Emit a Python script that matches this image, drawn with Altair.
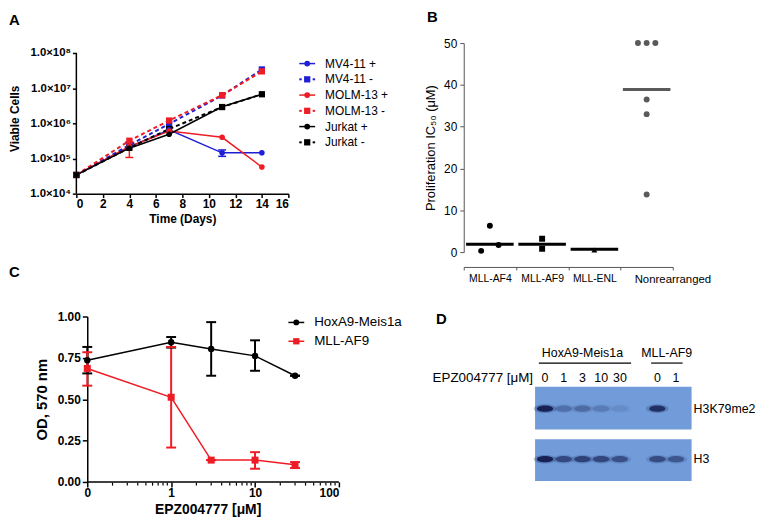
import json
import altair as alt
import pandas as pd

FONT = "Liberation Sans"

# ======================= DATA =======================
# ---- Panel A : growth curves ----
days = [0, 4, 7, 11, 14]
series_a = ["MV4-11 +", "MV4-11 -", "MOLM-13 +", "MOLM-13 -", "Jurkat +", "Jurkat -"]
mv411_plus = [3.4e4, 2.1e5, 6.5e5, 1.45e5, 1.45e5]
mv411_minus = [3.4e4, 2.4e5, 9.6e5, 6.2e6, 3.4e7]
molm13_plus = [3.4e4, 2.2e5, 6.0e5, 4.0e5, 5.7e4]
molm13_minus = [3.4e4, 3.2e5, 1.2e6, 6.3e6, 3.0e7]
jurkat_plus = [3.4e4, 1.96e5, 4.9e5, 2.95e6, 6.7e6]
jurkat_minus = [3.4e4, 2.0e5, 6.9e5, 2.9e6, 6.7e6]
err_a_series = ["MOLM-13 +", "MV4-11 +"]
err_a_day = [4, 11]
err_a_low = [1.07e5, 1.15e5]
err_a_high = [3.0e5, 1.75e5]
a_xticks = [0, 2, 4, 6, 8, 10, 12, 14, 16]
a_ytick_values = [1e4, 1e5, 1e6, 1e7, 1e8]
a_ytick_labels = ["1.0×10⁴", "1.0×10⁵", "1.0×10⁶", "1.0×10⁷", "1.0×10⁸"]

# ---- Panel B : IC50 scatter ----
b_groups = ["MLL-AF4", "MLL-AF9", "MLL-ENL", "Nonrearranged"]
b_point_group = ["MLL-AF4"] * 3 + ["MLL-AF9"] * 2 + ["MLL-ENL"] + ["Nonrearranged"] * 6
b_point_value = [0.3, 6.3, 1.7, 3.2, 0.8, 0.5, 50, 50, 50, 36.5, 33.0, 13.8]
b_point_slot = ["L", "C", "R", "C", "C", "C", "L", "C", "R", "C", "C", "C"]
b_medians = [1.9, 1.9, 0.7, 38.9]
b_yticks = [0, 10, 20, 30, 40, 50]

# ---- Panel C : dose response ----
conc = [0, 1, 3, 10, 30]
series_c = ["HoxA9-Meis1a", "MLL-AF9"]
hox_mean = [0.736, 0.844, 0.804, 0.762, 0.642]
hox_low = [0.656, 0.812, 0.642, 0.672, 0.642]
hox_high = [0.816, 0.876, 0.966, 0.856, 0.642]
mll_mean = [0.686, 0.512, 0.132, 0.132, 0.104]
mll_low = [0.582, 0.208, 0.132, 0.080, 0.084]
mll_high = [0.784, 0.816, 0.132, 0.180, 0.120]
c_xtick_values = [0.1, 1, 10, 100]
c_xtick_labels = ["0", "1", "10", "100"]
c_minor_ticks = [0.2, 0.3, 0.4, 0.5, 0.6, 0.7, 0.8, 0.9,
                 2, 3, 4, 5, 6, 7, 8, 9, 20, 30, 40, 50, 60, 70, 80, 90]
c_yticks = [0, 0.25, 0.5, 0.75, 1.0]

# ---- Panel D : western blot ----
d_lane_labels = ["0", "1", "3", "10", "30", "0", "1"]
d_lane_index = [0, 1, 2, 3, 4, 6, 7]
d_h3k79_intensity = [1.0, 0.3, 0.34, 0.22, 0.1, 0.85, 0.0]
d_h3_intensity = [1.0, 0.62, 0.68, 0.64, 0.56, 0.6, 0.5]
d_groups = ["HoxA9-Meis1a", "MLL-AF9"]
d_group_first_lane = [0, 6]
d_group_last_lane = [4, 7]
d_rows = ["H3K79me2", "H3"]

# ======================= STYLE / LAYOUT CONSTANTS =======================
BLUE = "#1f1fd6"
RED = "#ee1c24"
BLACK = "#000000"
GRAY = "#5a5a5a"
a_colors = [BLUE, BLUE, RED, RED, BLACK, BLACK]
c_colors = [BLACK, RED]
ELLIPSE = "M-1,0A1,0.38,0,1,1,1,0A1,0.38,0,1,1,-1,0Z"
SLOT_DOMAIN = ["p1", "p2", "L", "C", "R", "p3", "p4"]

# legend geometry, in pixels from the plot's top-left corner
LEG_A = dict(x0=225, x1=241, xm=233, xt=251, y0=20.7, dy=15.9, font=12)
LEG_C = dict(x0=214, x1=230, xm=222, xt=240, y0=6, dy=19, font=13.5)


def panel_title(letter, dx, offset):
    return alt.TitleParams(text=letter, anchor="start", frame="group", dx=dx, offset=offset,
                           font=FONT, fontSize=15, fontWeight="bold", color="black")


bold_axis = dict(domainColor="black", domainWidth=1.5, tickColor="black", tickWidth=1.5,
                 labelFont=FONT, labelFontWeight="bold", labelColor="black",
                 titleFont=FONT, titleFontWeight="bold", titleColor="black", grid=False)


def legend_layers(names, color_enc, geo, markers, dotted):
    """Legend entries (line + marker + label) drawn as marks, one row per series."""
    df = pd.DataFrame({"series": names, "marker": markers, "dotted": dotted})
    base = alt.Chart(df).transform_window(row="row_number()").transform_calculate(
        py=f"{geo['y0']} + (datum.row - 1) * {geo['dy']}")
    ypix = alt.Y("py:Q", scale=None, axis=None)
    solid = base.transform_filter("!datum.dotted").mark_rule(strokeWidth=1.5).encode(
        x=alt.value(geo["x0"]), x2=alt.value(geo["x1"]), y=ypix, color=color_enc)
    dotL = base.transform_filter("datum.dotted").mark_rule(strokeWidth=2).encode(
        x=alt.value(geo["x0"]), x2=alt.value(geo["x0"] + 2.5), y=ypix, color=color_enc)
    dotR = base.transform_filter("datum.dotted").mark_rule(strokeWidth=2).encode(
        x=alt.value(geo["x1"] - 2.5), x2=alt.value(geo["x1"]), y=ypix, color=color_enc)
    circ = base.transform_filter("datum.marker == 'circle'").mark_point(
        filled=True, shape="circle", size=34, opacity=1).encode(x=alt.value(geo["xm"]), y=ypix, color=color_enc)
    sq = base.transform_filter("datum.marker == 'square'").mark_point(
        filled=True, shape="square", size=40, opacity=1).encode(x=alt.value(geo["xm"]), y=ypix, color=color_enc)
    txt = base.mark_text(align="left", baseline="middle", font=FONT, fontSize=geo["font"], color="black").encode(
        x=alt.value(geo["xt"]), y=ypix, text="series:N")
    return [solid, dotL, dotR, circ, sq, txt]


# ======================= PANEL A =======================
rows = []
for s, vals in zip(series_a, [mv411_plus, mv411_minus, molm13_plus, molm13_minus, jurkat_plus, jurkat_minus]):
    for d, v in zip(days, vals):
        rows.append({"series": s, "day": d, "cells": v, "treated": s.endswith("+")})
dfA = pd.DataFrame(rows)
errA = pd.DataFrame({"series": err_a_series, "day": err_a_day, "lo": err_a_low, "hi": err_a_high})

# the plot frame reaches a little above 10^8 so that the panel tops line up; the y axis line stops at 10^8
xsA = alt.Scale(domain=[0, 16], nice=False, zero=False)
ysA = alt.Scale(type="log", domain=[1e4, 1.913e8], nice=False)
colA = alt.Color("series:N", scale=alt.Scale(domain=series_a, range=a_colors), legend=None)
axXA = alt.Axis(values=a_xticks, title="Time (Days)", tickSize=4, labelFontSize=12, titleFontSize=12,
                labelPadding=1, titlePadding=4, **bold_axis)
axYA = alt.Axis(values=a_ytick_values, title="Viable Cells", tickSize=4, domain=False,
                labelExpr=json.dumps(a_ytick_labels, ensure_ascii=False) + "[round(log(datum.value)/LN10) - 4]",
                labelFontSize=11.5, titleFontSize=12, labelPadding=2, titlePadding=8, **bold_axis)
xA = lambda f: alt.X(f, scale=xsA, axis=axXA)
yA = lambda f: alt.Y(f, scale=ysA, axis=axYA)

linesAp = alt.Chart(dfA).transform_filter("datum.treated").mark_line(strokeWidth=1.5).encode(
    x=xA("day:Q"), y=yA("cells:Q"), color=colA)
linesAm = alt.Chart(dfA).transform_filter("!datum.treated").mark_line(strokeWidth=2, strokeDash=[4, 3]).encode(
    x=xA("day:Q"), y=yA("cells:Q"), color=colA)
errRuleA = alt.Chart(errA).mark_rule(strokeWidth=1.5).encode(x=xA("day:Q"), y=yA("lo:Q"), y2="hi:Q", color=colA)
errLoA = alt.Chart(errA).mark_tick(orient="horizontal", size=8, thickness=1.5, opacity=1).encode(
    x=xA("day:Q"), y=yA("lo:Q"), color=colA)
errHiA = alt.Chart(errA).mark_tick(orient="horizontal", size=8, thickness=1.5, opacity=1).encode(
    x=xA("day:Q"), y=yA("hi:Q"), color=colA)
ptsAp = alt.Chart(dfA).transform_filter("datum.treated").mark_point(
    filled=True, shape="circle", size=32, opacity=1).encode(x=xA("day:Q"), y=yA("cells:Q"), color=colA)
ptsAm = alt.Chart(dfA).transform_filter("!datum.treated").mark_point(
    filled=True, shape="square", size=40, opacity=1).encode(x=xA("day:Q"), y=yA("cells:Q"), color=colA)
yAxisLineA = alt.Chart(pd.DataFrame({"d": [a_xticks[0]], "lo": [a_ytick_values[0]], "hi": [a_ytick_values[-1]]})).mark_rule(
    color="black", strokeWidth=1.5).encode(x=xA("d:Q"), y=yA("lo:Q"), y2="hi:Q")

legendA = legend_layers(series_a, colA, LEG_A, ["circle", "square"] * 3, [False, True] * 3)

chartA = alt.layer(linesAp, linesAm, errRuleA, errLoA, errHiA, ptsAm, ptsAp, yAxisLineA, *legendA).properties(
    width=214, height=152, title=panel_title("A", -68, 15))

# ======================= PANEL C =======================
rowsC = []
for s, m, lo, hi in [(series_c[0], hox_mean, hox_low, hox_high), (series_c[1], mll_mean, mll_low, mll_high)]:
    for c, a, b, h in zip(conc, m, lo, hi):
        rowsC.append({"series": s, "conc": c, "od": a, "lo": b, "hi": h})
dfC = pd.DataFrame(rowsC)

# the frame starts a little left of "0" so that the y axis sits where the reference has it
xsC = alt.Scale(type="log", domain=[0.0741, 100], nice=False)
ysC = alt.Scale(domain=[0, 1], nice=False, zero=False)
colC = alt.Color("series:N", scale=alt.Scale(domain=series_c, range=c_colors), legend=None)
axXC = alt.Axis(values=c_xtick_values, domain=False, tickSize=5,
                labelExpr=json.dumps(c_xtick_labels) + "[round(log(datum.value)/LN10) + 1]",
                title="EPZ004777 [μM]", labelFontSize=12, titleFontSize=14, labelPadding=1, titlePadding=4,
                **bold_axis)
axYC = alt.Axis(values=c_yticks, format=".2f", title="OD, 570 nm", offset=-11, tickSize=5, labelFontSize=12,
                titleFontSize=15, labelPadding=2, titlePadding=8, **bold_axis)
xC = lambda f: alt.X(f, scale=xsC, axis=axXC)
yC = lambda f: alt.Y(f, scale=ysC, axis=axYC)
baseC = alt.Chart(dfC).transform_calculate(xpos="datum.conc == 0 ? 0.1 : datum.conc")

errRuleC = baseC.mark_rule(strokeWidth=2).encode(x=xC("xpos:Q"), y=yC("lo:Q"), y2="hi:Q", color=colC)
errLoC = baseC.mark_tick(orient="horizontal", size=10, thickness=2, opacity=1).encode(
    x=xC("xpos:Q"), y=yC("lo:Q"), color=colC)
errHiC = baseC.mark_tick(orient="horizontal", size=10, thickness=2, opacity=1).encode(
    x=xC("xpos:Q"), y=yC("hi:Q"), color=colC)
linesC = baseC.mark_line(strokeWidth=1.5).encode(x=xC("xpos:Q"), y=yC("od:Q"), color=colC)
ptsHox = baseC.transform_filter(alt.datum.series == series_c[0]).mark_point(
    filled=True, shape="circle", size=42, opacity=1).encode(x=xC("xpos:Q"), y=yC("od:Q"), color=colC)
ptsMll = baseC.transform_filter(alt.datum.series == series_c[1]).mark_point(
    filled=True, shape="square", size=50, opacity=1).encode(x=xC("xpos:Q"), y=yC("od:Q"), color=colC)

# x axis line (from 0 to 100) and minor log ticks
axisLineC = alt.Chart(pd.DataFrame({"x0": [c_xtick_values[0]], "x1": [c_xtick_values[-1]], "y": [0]})).mark_rule(
    strokeWidth=1.5, color="black").encode(x=xC("x0:Q"), x2="x1:Q", y=yC("y:Q"))
minorC = alt.Chart(pd.DataFrame({"m": c_minor_ticks, "y": [0] * len(c_minor_ticks)})).mark_tick(
    orient="vertical", size=3, thickness=1.2, color="black", opacity=1, yOffset=2.2).encode(x=xC("m:Q"), y=yC("y:Q"))

legendC = legend_layers(series_c, colC, LEG_C, ["circle", "square"], [False, False])

chartC = alt.layer(errRuleC, errLoC, errHiC, linesC, ptsMll, ptsHox, axisLineC, minorC, *legendC).properties(
    width=265, height=167, title=panel_title("C", -68, 31))

# ======================= PANEL B =======================
dfB = pd.DataFrame({"group": b_point_group, "value": b_point_value, "slot": b_point_slot})
dfBm = pd.DataFrame({"group": b_groups, "median": b_medians})
xsB = alt.Scale(domain=b_groups, paddingInner=0, paddingOuter=0)
ysB = alt.Scale(domain=[0, 50], nice=False)
colB = alt.Color("group:N", scale=alt.Scale(domain=b_groups, range=[BLACK, BLACK, BLACK, GRAY]), legend=None)
axB = dict(domainColor="#555555", domainWidth=1, tickColor="#555555", tickWidth=1, labelFont=FONT,
           labelColor="black", titleFont=FONT, titleColor="black", titleFontWeight="normal", grid=False)
last_b = b_groups[-1]
axXB = alt.Axis(title=None, offset=15, tickBand="extent", tickSize=3, labelPadding=4, labelAngle=0,
                labelFontSize={"condition": {"test": f"datum.value === '{last_b}'", "value": 11.5}, "value": 10.5},
                labelOffset={"condition": {"test": f"datum.value === '{last_b}'", "value": 26}, "value": 0},
                **axB)
axYB = alt.Axis(values=b_yticks, title="Proliferation IC₅₀ (μM)", tickSize=4, labelFontSize=12, titleFontSize=13,
                labelPadding=3, titlePadding=6, **axB)
ptsB = alt.Chart(dfB).mark_point(filled=True, opacity=1, size=36).encode(
    x=alt.X("group:N", scale=xsB, axis=axXB), y=alt.Y("value:Q", scale=ysB, axis=axYB), color=colB,
    xOffset=alt.XOffset("slot:N", scale=alt.Scale(domain=SLOT_DOMAIN, paddingInner=0, paddingOuter=0)),
    shape=alt.Shape("group:N", scale=alt.Scale(domain=b_groups, range=["circle", "square", "triangle-up", "circle"]),
                    legend=None))
medB = alt.Chart(dfBm).mark_tick(thickness=3, size=48, opacity=1).encode(
    x=alt.X("group:N", scale=xsB, axis=axXB), y=alt.Y("median:Q", scale=ysB, axis=axYB), color=colB)
chartB = alt.layer(ptsB, medB).properties(width=211, height=211, title=panel_title("B", -37, 12))

# ======================= PANEL D =======================
# layout of the blot figure (lane units horizontally, rows top->bottom vertically)
D_GROUP_Y, D_RULE_Y, D_DOSE_Y = 15, 25, 40
D_BLOT = {"H3K79me2": (49, 92, 71), "H3": (102, 144, 122)}
D_LEFT, D_RIGHT = -0.53, 7.83

xsD = alt.Scale(domain=[-4.34, 8.36], nice=False, zero=False)
ysD = alt.Scale(domain=[0, 150], nice=False, zero=False, reverse=True)
xD = lambda f: alt.X(f, scale=xsD, axis=None)
yD = lambda f: alt.Y(f, scale=ysD, axis=None)

blots = pd.DataFrame({"row": d_rows, "x0": [D_LEFT] * 2, "x1": [D_RIGHT] * 2,
                      "y0": [D_BLOT[r][0] for r in d_rows], "y1": [D_BLOT[r][1] for r in d_rows],
                      "yc": [D_BLOT[r][2] for r in d_rows]})
blotRect = alt.Chart(blots).mark_rect(color="#719bd9").encode(x=xD("x0:Q"), x2="x1:Q", y=yD("y0:Q"), y2="y1:Q")
rowLabels = alt.Chart(blots).mark_text(align="left", baseline="middle", font=FONT, fontSize=12.5, dx=2,
                                       color="black").encode(x=xD("x1:Q"), y=yD("yc:Q"), text="row:N")

bandRows = []
for lane, i1, i2 in zip(d_lane_index, d_h3k79_intensity, d_h3_intensity):
    bandRows.append({"lane": lane, "row": "H3K79me2", "y": D_BLOT["H3K79me2"][2], "intensity": i1})
    bandRows.append({"lane": lane, "row": "H3", "y": D_BLOT["H3"][2], "intensity": i2})
dfBands = pd.DataFrame(bandRows)
haloD = alt.Chart(dfBands).transform_calculate(op="datum.intensity * 0.3").mark_point(
    shape=ELLIPSE, filled=True, size=520, color="#23356f").encode(
    x=xD("lane:Q"), y=yD("y:Q"), opacity=alt.Opacity("op:Q", scale=None, legend=None))
coreD = alt.Chart(dfBands).transform_calculate(op="datum.intensity * 0.9").mark_point(
    shape=ELLIPSE, filled=True, size=270, color="#0f1748").encode(
    x=xD("lane:Q"), y=yD("y:Q"), opacity=alt.Opacity("op:Q", scale=None, legend=None))

dfLanes = pd.DataFrame({"lane": d_lane_index, "label": d_lane_labels, "y": [D_DOSE_Y] * len(d_lane_index)})
laneText = alt.Chart(dfLanes).mark_text(font=FONT, fontSize=12.5, baseline="middle", color="black").encode(
    x=xD("lane:Q"), y=yD("y:Q"), text="label:N")
doseTitle = alt.Chart(pd.DataFrame({"t": ["EPZ004777 [μM]"], "x": [D_LEFT], "y": [D_DOSE_Y]})).mark_text(
    font=FONT, fontSize=13.5, align="right", baseline="middle", color="black", dx=-2).encode(
    x=xD("x:Q"), y=yD("y:Q"), text="t:N")
dfGroups = pd.DataFrame({"group": d_groups, "first": d_group_first_lane, "last": d_group_last_lane})
groupText = alt.Chart(dfGroups).transform_calculate(mid="(datum.first + datum.last) / 2", y=str(D_GROUP_Y)).mark_text(
    font=FONT, fontSize=12.5, baseline="middle", color="black").encode(x=xD("mid:Q"), y=yD("y:Q"), text="group:N")
groupRule = alt.Chart(dfGroups).transform_calculate(
    a="datum.first - 0.33", b="datum.last + (datum.last - datum.first > 2 ? 0.6 : 0.35)", y=str(D_RULE_Y)).mark_rule(
    color="black", strokeWidth=1.2).encode(x=xD("a:Q"), x2="b:Q", y=yD("y:Q"))

chartD = alt.layer(blotRect, haloD, coreD, rowLabels, laneText, doseTitle, groupText, groupRule).properties(
    width=240, height=150, title=panel_title("D", -28, 11))

# ======================= LAYOUT =======================
indep = dict(color="independent", shape="independent", opacity="independent",
             x="independent", y="independent", xOffset="independent")
left = alt.vconcat(chartA, chartC, spacing=41).resolve_scale(**indep)
right = alt.vconcat(chartB, chartD, spacing=27).resolve_scale(**indep)
chart = alt.hconcat(left, right, spacing=22).resolve_scale(**indep).properties(padding=0).configure_view(stroke=None)

chart.save("out.html", embed_options={"renderer": "svg", "actions": False})
